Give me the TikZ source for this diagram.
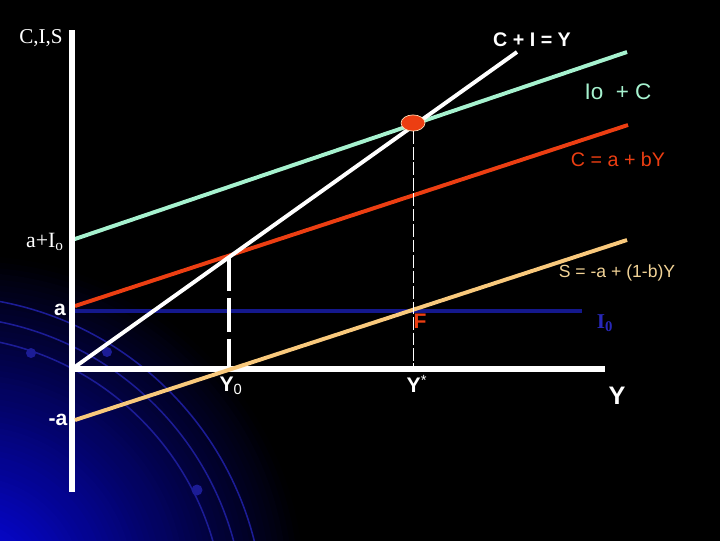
\documentclass[tikz,border=0pt]{standalone}
\usepackage{fontspec}
\setmainfont{Liberation Sans}
\newfontfamily\serifrm{Liberation Serif}
\usepackage{tikz}
\usetikzlibrary{positioning,shapes.geometric}
\definecolor{bgblue}{HTML}{0606D0}
\definecolor{orbit}{HTML}{1C1C96}
\definecolor{kmint}{HTML}{A6F2CF}
\definecolor{kred}{HTML}{EC3E12}
\definecolor{ksand}{HTML}{F9C97C}
\definecolor{knavy}{HTML}{14188C}
\definecolor{kinv}{HTML}{2828B8}
\definecolor{ksandtxt}{HTML}{F2D396}

\begin{document}
\begin{tikzpicture}[x=0.025cm,y=-0.025cm,
  axisline/.style={white,line width=4pt},
  curve/.style={line width=2.8pt},
  lbl/.style={inner sep=0pt,text=white},
  eqdot/.style={ellipse,draw=orange!30,line width=0.5pt,fill=kred,
                minimum width=17pt,minimum height=11.5pt,inner sep=0pt}
]
% background
\useasboundingbox (0,0) rectangle (720,540);
\fill[black] (-5,-5) rectangle (725,545);
\begin{scope}
  \clip (0,0) rectangle (720,540);
  \foreach \k in {0,...,59} {
    \pgfmathsetmacro\rr{340*(1-\k/60)}
    \pgfmathtruncatemacro\pp{min(100,115*\k/60)}
    \fill[bgblue!\pp!black] (-30,590) circle (\rr);
  }
  \draw[orbit,line width=1.1pt] (-60,620) circle (284);
  \draw[orbit,line width=1.1pt] (-60,620) circle (304);
  \draw[orbit,line width=1.1pt] (-60,620) circle (324);
  \fill[orbit] (31,353) circle (5);
  \fill[orbit] (107,352) circle (5);
  \fill[orbit] (197,490) circle (5.5);
\end{scope}

% key points
\coordinate (O) at (72,369);
\coordinate (yT) at (72,30);
\coordinate (yB) at (72,492);
\coordinate (xR) at (605,369);
\coordinate (E) at (413,123);
\coordinate (diagT) at (517,52);
\coordinate (cL) at (75,306);
\coordinate (cR) at (628,125);
\coordinate (gL) at (72,240);
\coordinate (gR) at (627,52);
\coordinate (sL) at (75,420);
\coordinate (sR) at (627,240);
\coordinate (iL) at (72,311);
\coordinate (iR) at (582,311);
\coordinate (Y0top) at (229,257);
\coordinate (Y0bot) at (229,369);
\coordinate (Ystar) at (413,369);

% schedules
\draw[curve,knavy,line width=3pt] (iL) -- (iR);
\draw[curve,kred] (cL) -- (cR);
\draw[curve,kmint] (gL) -- (gR);
\draw[curve,white,line width=3pt,dash pattern=on 24pt off 5pt] (Y0top) -- (Y0bot);
\draw[axisline] (yT) -- (yB);
\draw[axisline] (O) -- (xR);
\draw[curve,ksand] (sL) -- (sR);
\draw[curve,white] (O) -- (diagT);
\node[eqdot] (Edot) at (E) {};
\draw[white,line width=0.7pt,dash pattern=on 9pt off 2pt] (Edot.south) -- (Ystar);

% labels
\node[lbl,font=\serifrm\fontsize{15}{17}\selectfont] (cis) at (41,38) {C,I,S};
\node[lbl,font=\bfseries\fontsize{14}{16}\selectfont] (diaglbl) at (532,40) {C + I = Y};
\node[lbl,text=kmint,font=\fontsize{16}{18}\selectfont] (glbl) at (618,92) {Io\ \ + C};
\node[lbl,text=kred,font=\fontsize{14}{16}\selectfont] (clbl) at (618,159) {C = a + bY};
\node[lbl,font=\serifrm\fontsize{15.5}{17}\selectfont] (aIo) at (45,242) {a+I\textsubscript{o}};
\node[lbl,text=ksandtxt,font=\fontsize{12.5}{14}\selectfont] (slbl) at (617,273) {S = -a + (1-b)Y};
\node[lbl,font=\bfseries\fontsize{15}{17}\selectfont] (alpha) at (60,310) {a};
\node[lbl,text=kred,font=\bfseries\fontsize{15}{17}\selectfont] (Flbl) at (420,321) {F};
\node[lbl,text=kinv,font=\serifrm\bfseries\fontsize{15}{17}\selectfont] (Ilbl) at (605,323) {I\textsubscript{0}};
\node[lbl,font=\bfseries\fontsize{15}{17}\selectfont] (Y0lbl) at (231,386) {Y\textsubscript{\mdseries 0}};
\node[lbl,font=\bfseries\fontsize{15}{17}\selectfont] (Yslbl) at (417,384) {Y\textsuperscript{\mdseries *}};
\node[lbl,font=\bfseries\fontsize{18}{20}\selectfont] (Ylbl) at (617,396) {Y};
\node[lbl,font=\bfseries\fontsize{15}{17}\selectfont] (mina) at (58,420) {-a};
\end{tikzpicture}
\end{document}
